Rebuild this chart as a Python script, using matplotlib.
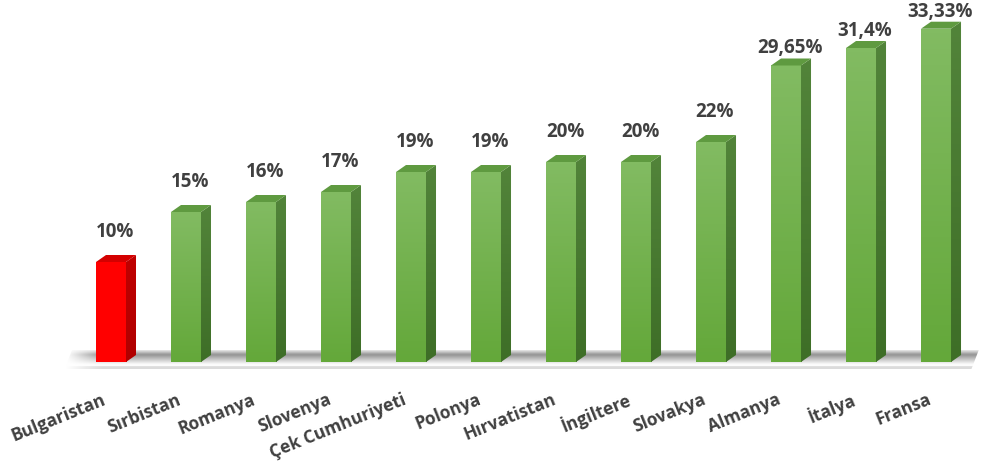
import numpy as np
import matplotlib.pyplot as plt
from matplotlib.patches import Polygon
from matplotlib.colors import LinearSegmentedColormap

countries = ["Bulgaristan", "Sırbistan", "Romanya", "Slovenya", "Çek Cumhuriyeti",
             "Polonya", "Hırvatistan", "İngiltere", "Slovakya", "Almanya", "İtalya", "Fransa"]
rates = [10, 15, 16, 17, 19, 19, 20, 20, 22, 29.65, 31.4, 33.33]
rate_labels = ["10%", "15%", "16%", "17%", "19%", "19%", "20%", "20%", "22%",
               "29,65%", "31,4%", "33,33%"]
highlight = "Bulgaristan"

plt.rcParams["font.family"] = ["Open Sans", "DejaVu Sans"]
text_color = "#404040"

fig = plt.figure(figsize=(9.85, 4.61), dpi=100)
ax = fig.add_axes([0, 0, 1, 1])
ax.set_xlim(-1.48, 11.653)
ax.set_ylim(-9.9, 36.2)
ax.axis("off")

# pixel -> data scale helpers
px_x = 1 / 75.0
px_y = 1 / 10.0
depth_x = 10 * px_x
depth_y = 7 * px_y
width = 30 * px_x

# floor plane
fl, fr = -0.62, 11.47
floor_prof = np.concatenate([
    np.linspace(0.96, 0.6, 6), np.linspace(0.6, 0.97, 10),
    np.full(2, 0.99), np.full(3, 0.86)])[::-1]
nx = 400
fade = np.clip(np.linspace(0, 1, nx) / 0.04, 0, 1)
img = np.ones((len(floor_prof), nx, 4))
for c in range(3):
    img[:, :, c] = floor_prof[:, None]
img[:, :, 3] = fade[None, :]
fimg = ax.imshow(img, extent=(fl, fr + 0.1, -0.75, 1.2), aspect="auto",
                 origin="lower", zorder=1, interpolation="bilinear")
floor_poly = Polygon([(fl, -0.75), (fr, -0.75), (fr + 0.1, 1.2), (fl + 0.1, 1.2)],
                     closed=True, facecolor="none", edgecolor="none")
ax.add_patch(floor_poly)
fimg.set_clip_path(floor_poly)

green_front = LinearSegmentedColormap.from_list("gf", ["#64a83a", "#82bb62"])
green_side = LinearSegmentedColormap.from_list("gs", ["#3e6e27", "#52843a"])
red_front = LinearSegmentedColormap.from_list("rf", ["#ff0000", "#ff0000"])
red_side = LinearSegmentedColormap.from_list("rs", ["#b00000", "#c00000"])

grad = np.linspace(0, 1, 64)[:, None]
xs = np.arange(len(countries))
bars = ax.bar(xs, rates, width=width, color="none", zorder=3)

for i, (bar, name, val, lab) in enumerate(zip(bars, countries, rates, rate_labels)):
    is_hi = name == highlight
    fc = red_front if is_hi else green_front
    sc = red_side if is_hi else green_side
    top_c = "#d40000" if is_hi else "#5f9a40"
    x0 = bar.get_x()
    x1 = x0 + bar.get_width()
    im = ax.imshow(grad, cmap=fc, extent=(x0, x1, 0, val), aspect="auto",
                   origin="lower", zorder=3)
    im.set_clip_path(bar)
    side = Polygon([(x1, 0), (x1 + depth_x, depth_y), (x1 + depth_x, val + depth_y), (x1, val)],
                   closed=True, facecolor="none", edgecolor="none", zorder=3)
    ax.add_patch(side)
    sim = ax.imshow(grad, cmap=sc, extent=(x1, x1 + depth_x, 0, val + depth_y),
                    aspect="auto", origin="lower", zorder=3)
    sim.set_clip_path(side)
    top = Polygon([(x0, val), (x1, val), (x1 + depth_x, val + depth_y), (x0 + depth_x, val + depth_y)],
                  closed=True, facecolor=top_c, edgecolor="none", zorder=4)
    ax.add_patch(top)
    # labels of the tallest bars sit closer to the bar top
    gap = 3.0 if val < 25 else 1.7
    ax.text(i + 4 * px_x, val + gap, lab, ha="center", va="center",
            fontsize=13.5, fontweight="bold", color=text_color, zorder=5)
    ax.text(i - 6 * px_x, -3.7, name, ha="right", va="center", rotation=22,
            rotation_mode="anchor", fontsize=12.5, fontweight="bold", color=text_color)

fig.savefig("out.png", dpi=100)
